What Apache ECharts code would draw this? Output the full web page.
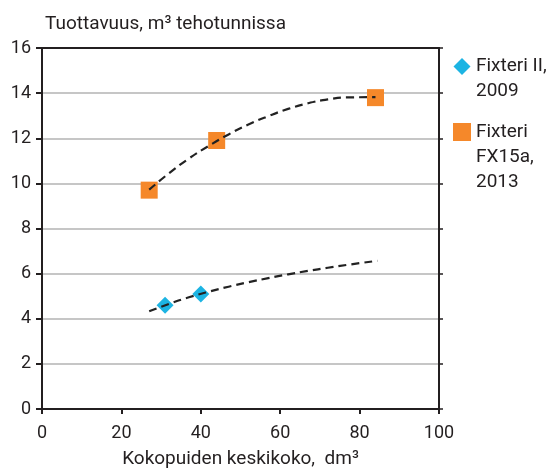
<!DOCTYPE html>
<html>
<head>
<meta charset="utf-8">
<script src="https://cdn.jsdelivr.net/npm/echarts@6/dist/echarts.min.js"></script>
<style>
html,body{margin:0;padding:0;background:#fff;}
#chart{width:555px;height:474px;}
</style>
</head>
<body>
<div id="chart"></div>
<script>
// Data
const seriesNames = ['Fixteri II,\n2009', 'Fixteri\nFX15a,\n2013'];
const fixteriII = [[31, 4.6], [40, 5.1]];
const fixteriFX15a = [[27, 9.7], [44, 11.9], [84, 13.8]];
// Dashed trend curves
const trendII = [[27, 4.33], [32, 4.66], [37, 4.95], [42, 5.2], [47, 5.42], [52, 5.62], [57, 5.8], [62, 5.97], [67, 6.12], [72, 6.26], [77, 6.39], [84.5, 6.57]];
const trendFX15a = [[27, 9.72], [32, 10.45], [37, 11.1], [42, 11.66], [47, 12.17], [52, 12.61], [57, 12.98], [62, 13.3], [67, 13.55], [72, 13.72], [77, 13.81], [84, 13.82]];
const xTicks = [0, 20, 40, 60, 80, 100];
const yTicks = [0, 2, 4, 6, 8, 10, 12, 14, 16];
const yTitle = 'Tuottavuus, m³ tehotunnissa';
const xTitle = 'Kokopuiden keskikoko,  dm³';

const FONT = 'Roboto';
const TXT = '#231f20';
const BLUE = '#1cb4e3';
const ORANGE = '#f5882a';

const chart = echarts.init(document.getElementById('chart'), null, {renderer: 'canvas'});
chart.setOption({
  animation: false,
  backgroundColor: '#fff',
  textStyle: {fontFamily: FONT},
  title: {
    text: yTitle,
    left: 40, top: 10,
    textStyle: {fontFamily: FONT, fontSize: 19, fontWeight: 'normal', color: TXT}
  },
  grid: {left: 42, right: 116, top: 48, bottom: 59, containLabel: false},
  xAxis: [{
    type: 'value', min: xTicks[0], max: xTicks[xTicks.length - 1], interval: 20,
    name: xTitle, nameLocation: 'middle', nameGap: 41,
    nameTextStyle: {fontFamily: FONT, fontSize: 19, color: TXT},
    axisLine: {show: true, lineStyle: {color: TXT, width: 2}},
    axisTick: {show: true, inside: false, length: 5, lineStyle: {color: TXT, width: 2}},
    axisLabel: {fontFamily: FONT, fontSize: 18, color: TXT, margin: 15},
    splitLine: {show: false}
  }, {
    type: 'value', position: 'top', min: 0, max: 100, interval: 20,
    axisLine: {show: true, onZero: false, lineStyle: {color: TXT, width: 2}},
    axisTick: {show: false}, axisLabel: {show: false}, splitLine: {show: false}
  }],
  yAxis: [{
    type: 'value', min: yTicks[0], max: yTicks[yTicks.length - 1], interval: 2,
    axisLine: {show: true, lineStyle: {color: TXT, width: 2}},
    axisTick: {show: true, inside: false, length: 6, lineStyle: {color: TXT, width: 2}},
    axisLabel: {fontFamily: FONT, fontSize: 18, color: TXT, margin: 11},
    splitLine: {show: true, lineStyle: {color: '#b3b3b3', width: 1.5}}
  }, {
    type: 'value', position: 'right', min: 0, max: 16, interval: 2,
    axisLine: {show: true, onZero: false, lineStyle: {color: TXT, width: 2}},
    axisTick: {show: true, inside: false, length: 4, lineStyle: {color: TXT, width: 1.5}},
    axisLabel: {show: false}, splitLine: {show: false}
  }],
  series: [
    {
      name: 'trendII', type: 'line', data: trendII, smooth: true, showSymbol: false, z: 3,
      lineStyle: {color: '#222', width: 2.2, type: [8, 5]}, silent: true
    },
    {
      name: 'trendFX15a', type: 'line', data: trendFX15a, smooth: true, showSymbol: false, z: 3,
      lineStyle: {color: '#222', width: 2.2, type: [8, 5]}, silent: true
    },
    {
      name: seriesNames[0], type: 'scatter', data: fixteriII, symbol: 'diamond', symbolSize: 17, z: 2,
      itemStyle: {color: BLUE, opacity: 1}
    },
    {
      name: seriesNames[1], type: 'scatter', data: fixteriFX15a, symbol: 'rect', symbolSize: 17, z: 2,
      itemStyle: {color: ORANGE, opacity: 1}
    }
  ],
  graphic: [
    {type: 'polygon', shape: {points: [[462, 58], [470.5, 66.5], [462, 75], [453.5, 66.5]]}, style: {fill: BLUE}},
    {type: 'text', left: 476, top: 54, style: {text: seriesNames[0], font: '19px ' + FONT, fill: TXT, lineHeight: 25}},
    {type: 'rect', shape: {x: 453, y: 123, width: 18, height: 18}, style: {fill: ORANGE}},
    {type: 'text', left: 476, top: 120, style: {text: seriesNames[1], font: '19px ' + FONT, fill: TXT, lineHeight: 25}}
  ]
});
</script>
</body>
</html>
